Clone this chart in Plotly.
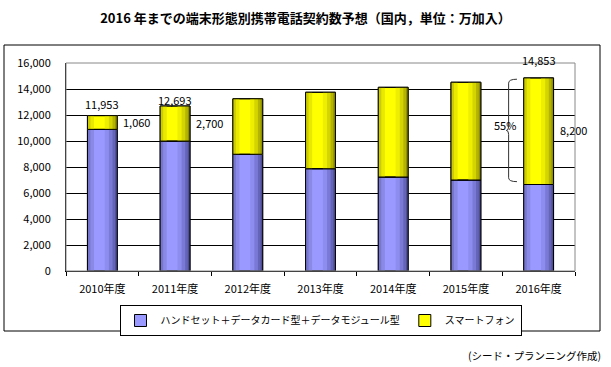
import plotly.graph_objects as go

# ---- data ----
categories = ["2010年度", "2011年度", "2012年度", "2013年度", "2014年度", "2015年度", "2016年度"]
handset = [10893, 9993, 8980, 7870, 7230, 7000, 6653]      # ハンドセット＋データカード型＋データモジュール型
smartphone = [1060, 2700, 4270, 5880, 6900, 7520, 8200]    # スマートフォン
total_labels = [11953, 12693, None, None, None, None, 14853]
smart_labels = [1060, 2700, None, None, None, None, 8200]
y_ticks = [0, 2000, 4000, 6000, 8000, 10000, 12000, 14000, 16000]

W, H = 611, 367
L, R, T, B = 66, 36, 63, 96
pw, ph = W - L - R, H - T - B
def px(x):
    return (x - L) / pw
def py(y):
    return (H - B - y) / ph

FONT = "Noto Sans CJK JP, Liberation Sans, sans-serif"
BW = 0.41  # bar width (category units)

totals = [a + b for a, b in zip(handset, smartphone)]

fig = go.Figure()

def add_series(name, base, vals, center, right_cols, left_cols):
    fig.add_trace(go.Bar(x=categories, y=vals, base=base, name=name, width=BW,
                         marker=dict(color=center, line=dict(color="black", width=1)),
                         showlegend=True, hoverinfo="skip"))
    rfr = [0.42, 0.28, 0.16, 0.07]
    for f, c in zip(rfr, right_cols):
        s = BW * f
        fig.add_trace(go.Bar(x=categories, y=vals, base=base, width=s, offset=BW / 2 - s,
                             marker=dict(color=c, line=dict(width=0)), showlegend=False,
                             hoverinfo="skip"))
    lfr = [0.22, 0.1]
    for f, c in zip(lfr, left_cols):
        s = BW * f
        fig.add_trace(go.Bar(x=categories, y=vals, base=base, width=s, offset=-BW / 2,
                             marker=dict(color=c, line=dict(width=0)), showlegend=False,
                             hoverinfo="skip"))
    fig.add_trace(go.Bar(x=categories, y=vals, base=base, width=BW,
                         marker=dict(color="rgba(0,0,0,0)", line=dict(color="black", width=1)),
                         showlegend=False, hoverinfo="skip"))

add_series("ハンドセット＋データカード型＋データモジュール型", [0] * 7, handset, "#9999ff",
           ["#8d8df0", "#7a7ad6", "#6464b8", "#4e4e96"], ["#8a8ae6", "#7676cc"])
add_series("スマートフォン", handset, smartphone, "#ffff00",
           ["#eeee00", "#d4d400", "#b4b400", "#8f8f00"], ["#e8e800", "#cccc00"])

annotations = []
yshift_tot = [12, 6, 0, 0, 0, 0, 18]
for i, v in enumerate(total_labels):
    if v is not None:
        annotations.append(dict(x=categories[i], y=totals[i], xref="x", yref="y",
                                text=f"{v:,}", showarrow=False, yanchor="middle",
                                yshift=yshift_tot[i], font=dict(size=11, color="black", family=FONT)))
for i, v in enumerate(smart_labels):
    if v is not None:
        annotations.append(dict(x=categories[i], y=handset[i] + smartphone[i] / 2, xref="x", yref="y",
                                text=f"{v:,}", showarrow=False, xanchor="left", xshift=19,
                                yshift=1, font=dict(size=11, color="black", family=FONT)))
annotations.append(dict(x=categories[6], y=handset[6] + smartphone[6] / 2, xref="x", yref="y",
                        text="55%", showarrow=False, xanchor="center", xshift=-34, yshift=6,
                        font=dict(size=11, color="black", family=FONT)))
annotations.append(dict(x=px(603), y=py(355), xref="paper", yref="paper", text="(シード・プランニング作成)",
                        showarrow=False, xanchor="right", yanchor="middle",
                        font=dict(size=10.5, color="black", family=FONT)))

n = len(categories)
def cx(idx, off):
    return (idx + 0.5 + off) / n
top = totals[6] - 100
bot = handset[6] + 220
mid = (top + bot) / 2
r = 300
xa, xs, xt = cx(6, -0.298), cx(6, -0.413), cx(6, -0.445)
brace = (f"M {xa},{top} Q {xs},{top} {xs},{top - r} L {xs},{mid + r} "
         f"Q {xs},{mid} {xt},{mid} Q {xs},{mid} {xs},{mid - r} L {xs},{bot + r} "
         f"Q {xs},{bot} {xa},{bot}")

shapes = [
    dict(type="path", path=brace, xref="paper", yref="y", line=dict(color="#333333", width=1)),
    dict(type="rect", xref="paper", yref="paper", x0=0, x1=1, y0=0, y1=1,
         line=dict(color="#888888", width=1), layer="above"),
    dict(type="rect", xref="paper", yref="paper", x0=px(4), x1=px(600), y0=py(331), y1=py(45),
         line=dict(color="black", width=1)),
]

fig.update_layout(
    width=W, height=H,
    margin=dict(l=L, r=R, t=T, b=B),
    barmode="overlay",
    paper_bgcolor="white", plot_bgcolor="white",
    font=dict(family=FONT, size=11, color="black"),
    title=dict(text="<b>2016 年までの端末形態別携帯電話契約数予想（国内，単位：万加入）</b>",
               x=0.5, xanchor="center", y=1 - 18 / H, yanchor="middle", yref="container",
               font=dict(size=13, family=FONT, color="black")),
    xaxis=dict(type="category", range=[-0.5, n - 0.5], showline=True, linecolor="black", linewidth=1,
               ticks="outside", tickson="boundaries", ticklen=4, tickcolor="black",
               ticklabelstandoff=8,
               showgrid=False, tickfont=dict(size=11, family=FONT, color="black"), fixedrange=True),
    yaxis=dict(range=[0, 16000], tickvals=y_ticks, tickformat=",", showline=True, linecolor="black",
               linewidth=1, showgrid=True, gridcolor="black", gridwidth=1, zeroline=False,
               ticks="", ticklabelstandoff=12,
               tickfont=dict(size=11, family=FONT, color="black"), fixedrange=True),
    legend=dict(orientation="h", x=0.5, xanchor="center", y=py(305), yanchor="top",
                bordercolor="black", borderwidth=1, bgcolor="white",
                font=dict(size=10, family=FONT, color="black"), itemwidth=30,
                traceorder="normal"),
    annotations=annotations,
    shapes=shapes,
)

fig.write_html("out.html", config={"displayModeBar": False},
               post_script="document.body.style.margin='0';")
